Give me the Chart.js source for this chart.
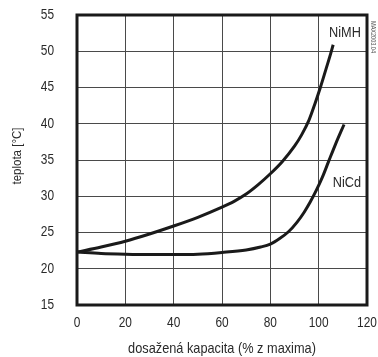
<!DOCTYPE html>
<html>
<head>
<meta charset="utf-8">
<title>teplota vs kapacita</title>
<script src="https://cdn.jsdelivr.net/npm/chart.js@4.4.0/dist/chart.umd.min.js"></script>
<style>
    html, body { margin: 0; padding: 0; background: #fff; }
    #chart { display: block; }
</style>
</head>
<body>
<canvas id="chart" width="378" height="357"></canvas>
<script>
    // values
    const nimh_x = [0, 10, 20, 30, 40, 50, 60, 65, 70, 75, 80, 85, 90, 93, 96, 98.5, 100.7, 103, 105, 106];
    const nimh_y = [22.3, 23.0, 23.8, 24.8, 25.9, 27.1, 28.5, 29.3, 30.3, 31.6, 33.1, 34.8, 36.9, 38.5, 40.5, 42.8, 45.0, 47.5, 49.7, 50.9];
    const nicd_x = [0, 10, 20, 30, 40, 50, 60, 70, 76, 80, 84, 87.5, 91, 94, 96.5, 99, 101.5, 104, 107, 110.5];
    const nicd_y = [22.3, 22.1, 22.0, 21.95, 21.95, 22.0, 22.25, 22.6, 23.0, 23.4, 24.2, 25.1, 26.4, 27.8, 29.2, 30.8, 32.6, 34.7, 37.2, 39.9];
    const series_names = ['NiMH', 'NiCd'];
    const label_pos = [[110.9, 52.5], [111.7, 31.9]];
    const x_ticks = [0, 20, 40, 60, 80, 100, 120];
    const y_ticks = [15, 20, 25, 30, 35, 40, 45, 50, 55];
    const x_title = 'dosažená kapacita (% z maxima)';
    const y_title = 'teplota [°C]';
    const figure_code = 'MAX2003.04';

    // the original uses a condensed face; squeeze a normal sans instead
    const family = '"Liberation Sans", Arial, sans-serif';
    const squeeze = 0.85;
    const text_color = '#2a2a2a';

    function toPoints(xs, ys) {
        return xs.map((x, i) => ({x: x, y: ys[i]}));
    }

    function narrowText(ctx, text, x, y, size, align, angle) {
        ctx.save();
        ctx.translate(x, y);
        if (angle) ctx.rotate(angle);
        ctx.scale(squeeze, 1);
        ctx.font = size + 'px ' + family;
        ctx.textAlign = align;
        ctx.textBaseline = 'middle';
        ctx.fillText(text, 0, 0);
        ctx.restore();
    }

    const frame = {
        id: 'frame',
        afterDraw(chart) {
            const ctx = chart.ctx;
            const a = chart.chartArea;
            const sx = chart.scales.x;
            const sy = chart.scales.y;
            ctx.save();
            ctx.strokeStyle = '#1a1a1a';
            ctx.lineWidth = 3;
            ctx.strokeRect(a.left, a.top, a.right - a.left, a.bottom - a.top);
            ctx.fillStyle = text_color;
            // tick labels
            sx.ticks.forEach(t => narrowText(ctx, String(t.value), sx.getPixelForValue(t.value), a.bottom + 18, 14, 'center'));
            sy.ticks.forEach(t => narrowText(ctx, String(t.value), a.left - 23, sy.getPixelForValue(t.value), 14, 'right'));
            // axis titles
            narrowText(ctx, x_title, (a.left + a.right) / 2, 349, 15, 'center');
            narrowText(ctx, y_title, 17, 156, 13.5, 'center', -Math.PI / 2);
            // curve names
            series_names.forEach((name, i) => {
                narrowText(ctx, name, sx.getPixelForValue(label_pos[i][0]), sy.getPixelForValue(label_pos[i][1]), 15, 'center');
            });
            // figure code on the right edge
            ctx.fillStyle = '#555';
            narrowText(ctx, figure_code, 373, 37, 6.5, 'center', Math.PI / 2);
            ctx.restore();
        }
    };

    function fixSize(w, h) {
        return (axis) => {
            if (w) axis.width = w;
            if (h) axis.height = h;
            axis.paddingTop = 0;
            axis.paddingBottom = 0;
            axis.paddingLeft = 0;
            axis.paddingRight = 0;
        };
    }

    new Chart(document.getElementById('chart'), {
        type: 'line',
        data: {
            datasets: [{
                label: series_names[0],
                data: toPoints(nimh_x, nimh_y),
                borderColor: '#1a1a1a',
                borderWidth: 3,
                pointRadius: 0,
                cubicInterpolationMode: 'monotone',
                fill: false
            }, {
                label: series_names[1],
                data: toPoints(nicd_x, nicd_y),
                borderColor: '#1a1a1a',
                borderWidth: 3,
                pointRadius: 0,
                cubicInterpolationMode: 'monotone',
                fill: false
            }]
        },
        options: {
            responsive: false,
            animation: false,
            layout: {
                padding: { top: 15, right: 11, bottom: 0, left: 0 }
            },
            plugins: {
                legend: { display: false },
                tooltip: { enabled: false }
            },
            scales: {
                x: {
                    type: 'linear',
                    min: 0,
                    max: 120,
                    afterBuildTicks: (axis) => { axis.ticks = x_ticks.map(v => ({value: v})); },
                    afterFit: fixSize(0, 52),
                    grid: { color: '#4a4a4a', lineWidth: 1, drawTicks: false },
                    border: { display: false },
                    ticks: { display: false }
                },
                y: {
                    type: 'linear',
                    min: 15,
                    max: 55,
                    afterBuildTicks: (axis) => { axis.ticks = y_ticks.map(v => ({value: v})); },
                    afterFit: fixSize(77, 0),
                    grid: { color: '#4a4a4a', lineWidth: 1, drawTicks: false },
                    border: { display: false },
                    ticks: { display: false }
                }
            }
        },
        plugins: [frame]
    });
</script>
</body>
</html>
